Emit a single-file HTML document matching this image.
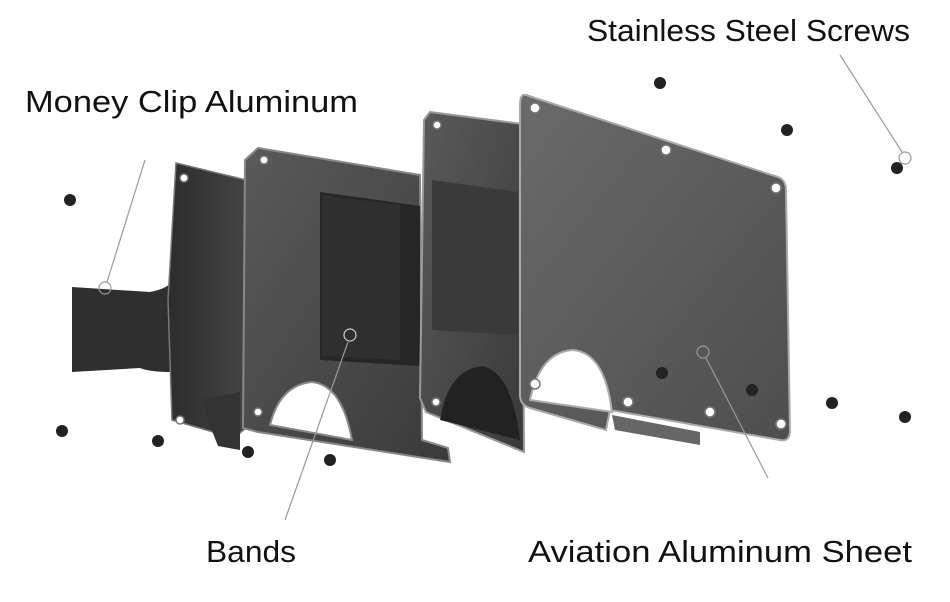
<!DOCTYPE html>
<html><head><meta charset="utf-8"><style>
html,body{margin:0;padding:0;background:#fff;}
svg{display:block}
text{font-family:"Liberation Sans",sans-serif;fill:#111;}
</style></head><body>
<svg width="950" height="602" viewBox="0 0 950 602" xmlns="http://www.w3.org/2000/svg">
<defs>
<linearGradient id="g1" x1="0" y1="0" x2="1" y2="1"><stop offset="0" stop-color="#6a6a6a"/><stop offset="1" stop-color="#4e4e4e"/></linearGradient>
<linearGradient id="g2" x1="0" y1="0" x2="1" y2="1"><stop offset="0" stop-color="#5a5a5a"/><stop offset="1" stop-color="#3a3a3a"/></linearGradient>
<linearGradient id="g3" x1="0" y1="0" x2="1" y2="0"><stop offset="0" stop-color="#2c2c2c"/><stop offset="1" stop-color="#444"/></linearGradient>
</defs>
<rect width="950" height="602" fill="#fff"/>
<path d="M72,287 L150,292 Q170,288 172,280 L172,372 Q150,372 140,368 L72,372 Z" fill="#2f2f2f"/>
<path d="M176,163 L246,180 L246,428 L234,438 L172,420 L168,300 Z" fill="url(#g3)" stroke="#777" stroke-width="1.5"/>
<path d="M200,400 L240,392 L240,450 L218,446 Z" fill="#333"/>
<path d="M258,148 L420,175 L422,440 L448,448 L450,462 L258,432 L243,428 L245,160 Z" fill="url(#g2)" stroke="#888" stroke-width="2"/>
<path d="M270,425 Q280,385 312,382 Q342,385 352,440 Z" fill="#fff" stroke="#888" stroke-width="2"/>
<path d="M320,192 L420,206 L420,366 L320,360 Z" fill="#262626"/>
<path d="M322,195 L400,205 L400,360 L322,356 Z" fill="#333" opacity="0.7"/>
<path d="M430,112 L522,124 L524,452 L426,412 L420,398 L424,120 Z" fill="url(#g2)" stroke="#999" stroke-width="2"/>
<path d="M432,180 L518,192 L518,335 L432,330 Z" fill="#3a3a3a"/>
<path d="M440,420 Q448,370 482,366 Q512,372 520,440 Z" fill="#222"/>
<path d="M526,95 L778,177 Q786,180 786,190 L790,432 Q789,442 780,440 L610,410 L606,430 L530,408 Q520,405 520,395 L520,105 Q520,93 526,95 Z" fill="url(#g1)" stroke="#aaa" stroke-width="2"/>
<path d="M530,400 Q540,352 573,350 Q605,353 612,412 Z" fill="#fff" stroke="#aaa" stroke-width="2"/>
<path d="M612,415 L700,432 L700,445 L615,430 Z" fill="#666"/>
<g fill="#fff" stroke="#777" stroke-width="1.5">
<circle cx="535" cy="108" r="5"/><circle cx="666" cy="150" r="5"/><circle cx="776" cy="188" r="5"/>
<circle cx="535" cy="384" r="5"/><circle cx="628" cy="402" r="5"/><circle cx="710" cy="412" r="5"/><circle cx="781" cy="424" r="5"/>
<circle cx="184" cy="178" r="4"/><circle cx="180" cy="420" r="4"/><circle cx="264" cy="160" r="4"/><circle cx="258" cy="412" r="4"/>
<circle cx="437" cy="125" r="4"/><circle cx="436" cy="402" r="4"/>
</g>
<g fill="#222">
<circle cx="70" cy="200" r="6"/><circle cx="660" cy="83" r="6"/><circle cx="787" cy="130" r="6"/><circle cx="897" cy="168" r="6"/>
<circle cx="62" cy="431" r="6"/><circle cx="158" cy="441" r="6"/><circle cx="248" cy="452" r="6"/><circle cx="330" cy="460" r="6"/>
<circle cx="832" cy="403" r="6"/><circle cx="905" cy="417" r="6"/><circle cx="752" cy="390" r="6"/><circle cx="662" cy="373" r="6"/>
</g>
<g stroke="#999" stroke-width="1.2" fill="none">
<line x1="840" y1="55" x2="902" y2="152"/><circle cx="905" cy="158" r="6"/>
<line x1="145" y1="160" x2="107" y2="282"/><circle cx="105" cy="288" r="6"/>
<line x1="348" y1="342" x2="285" y2="520"/><circle cx="350" cy="335" r="6" stroke="#ccc"/>
<line x1="706" y1="358" x2="768" y2="478"/><circle cx="703" cy="352" r="6"/>
</g>
<text x="587" y="41" font-size="31" textLength="323" lengthAdjust="spacingAndGlyphs">Stainless Steel Screws</text>
<text x="25" y="112" font-size="31" textLength="333" lengthAdjust="spacingAndGlyphs">Money Clip Aluminum</text>
<text x="206" y="562" font-size="31" textLength="90" lengthAdjust="spacingAndGlyphs">Bands</text>
<text x="528" y="562" font-size="31" textLength="384" lengthAdjust="spacingAndGlyphs">Aviation Aluminum Sheet</text>
</svg>
</body></html>
